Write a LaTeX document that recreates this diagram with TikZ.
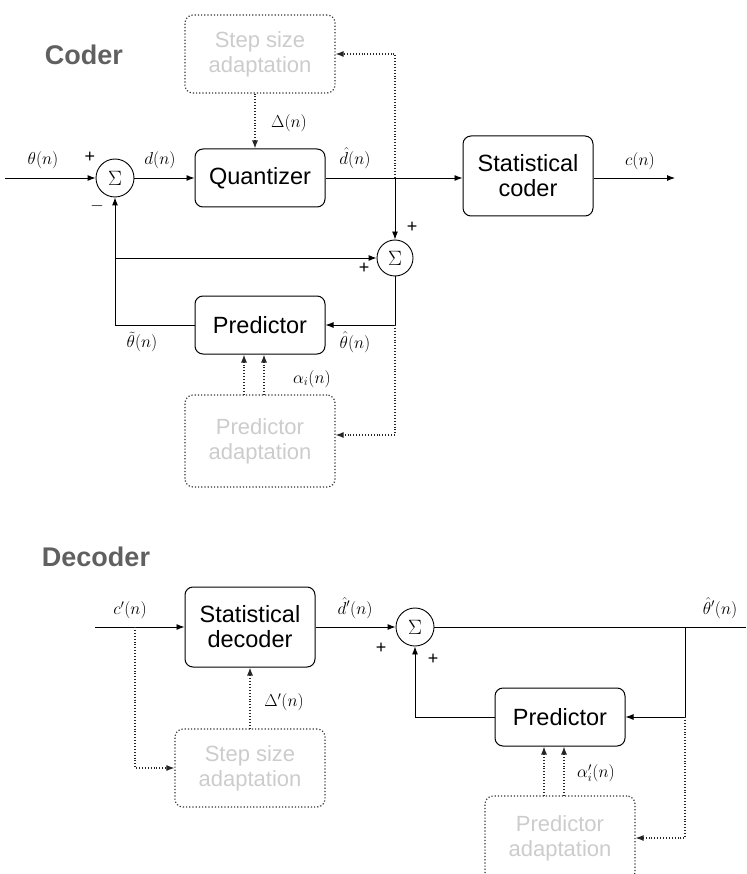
\documentclass[tikz,border=0pt]{standalone}
\usepackage{fontspec}
\setmainfont{Liberation Sans}
\usetikzlibrary{arrows.meta,positioning,calc}
\tikzset{
  blk/.style ={rectangle, rounded corners=8pt, draw=black, line width=1pt,
               minimum width=130pt, minimum height=58pt, align=center,
               inner sep=2pt, font=\fontsize{23.5}{25}\selectfont},
  adp/.style ={rectangle, rounded corners=8pt, draw=gray!40!black, dotted,
               line width=1.2pt, minimum width=150pt, minimum height=78pt,
               align=center, text=gray!40, inner sep=2pt,
               font=\fontsize{22}{25}\selectfont},
  sumc/.style={circle, draw, line width=0.9pt, minimum size=38pt, inner sep=0pt,
               font=\fontsize{20}{20}\selectfont},
  ar/.style  ={-{Latex[length=8pt,width=6pt]}, line width=0.9pt},
  dar/.style ={ar, dotted, line width=1.1pt, draw=gray!30!black},
  lbl/.style ={inner sep=1pt, font=\fontsize{17}{17}\selectfont},
  sgn/.style ={inner sep=1pt, font=\fontsize{18}{18}\selectfont},
  ttl/.style ={font=\fontsize{27}{27}\selectfont\bfseries, text=gray!75!black}
}
\begin{document}
\begin{tikzpicture}[x=1pt, y=-1pt]
\useasboundingbox (0,0) rectangle (746,874);
% coder
\node[ttl] (coder) at (84,55) {Coder};
\node[adp] (ssa) at (260,54) {Step size\\adaptation};
\node[sumc] (s1) at (115,178) {$\Sigma$};
\node[blk] (q) at (260,178) {Quantizer};
\node[blk, minimum height=80pt] (sc) at (528,176) {Statistical\\coder};
\node[sumc, minimum size=36pt] (s2) at (395,258) {$\Sigma$};
\node[blk] (p1) at (260,325) {Predictor};
\node[adp, minimum height=92pt] (pa) at (260,441) {Predictor\\adaptation};
\coordinate (in1) at (5,178);
\coordinate (out1) at (675,178);
\coordinate (j1) at (395,178);
\coordinate (j2) at (s2.south |- p1.east);
\coordinate (j3) at (s1.south |- s2.west);
\draw[ar] (in1) -- (s1.west);
\draw[ar] (s1.east) -- (q.west);
\draw (q.east) -- (j1);
\draw[ar] (j1) -- (sc.west |- j1);
\draw[ar] (sc.east |- j1) -- (out1);
\draw[ar] (j1) -- (s2.north);
\draw[dar] (j1) |- (ssa.east);
\draw[dar] ([xshift=-5pt]ssa.south) -- ([xshift=-5pt]q.north);
\draw[ar] (s2.south) |- (p1.east);
\draw[ar] (p1.west) -| (s1.south);
\draw[ar] (j3) -- (s2.west);
\draw[dar] (j2) |- ([yshift=6pt]pa.east);
\foreach \dx in {-16,4}{\draw[dar] ([xshift=\dx pt]pa.north) -- ([xshift=\dx pt]p1.south);}
\node[lbl] (th) at (43,160) {$\theta(n)$};
\node[sgn] (pl1) at (90,157) {+};
\node[sgn] (mi1) at (97,206) {$-$};
\node[lbl] (dn) at (160,160) {$d(n)$};
\node[lbl] (del) at (289,123) {$\Delta(n)$};
\node[lbl] (dh) at (355,158) {$\hat{d}(n)$};
\node[lbl] (cn) at (640,161) {$c(n)$};
\node[sgn] (pl2) at (412,227) {+};
\node[sgn] (pl3) at (364,268) {+};
\node[lbl] (tt) at (142,342) {$\tilde{\theta}(n)$};
\node[lbl] (thh) at (355,342) {$\hat{\theta}(n)$};
\node[lbl] (al) at (312,379) {$\alpha_i(n)$};
% decoder
\node[ttl] (decoder) at (96,557) {Decoder};
\node[blk, minimum height=80pt] (sd) at (250,627) {Statistical\\decoder};
\node[sumc] (s3) at (415,627) {$\Sigma$};
\node[blk] (p2) at (560,717) {Predictor};
\node[adp] (ssb) at (250,768) {Step size\\adaptation};
\node[adp, minimum height=84pt] (pb) at (560,838) {Predictor\\adaptation};
\coordinate (in2) at (95,627);
\coordinate (out2) at (746,627);
\coordinate (j4) at (135,627);
\coordinate (j5) at (685,627);
\coordinate (j6) at (j5 |- p2.east);
\draw[ar] (in2) -- (sd.west);
\draw[dar] (j4) |- (ssb.west);
\draw[dar] (ssb.north) -- (sd.south);
\draw[ar] (sd.east) -- (s3.west);
\draw (s3.east) -- (out2);
\draw[ar] (j5) |- (p2.east);
\draw[ar] (p2.west) -| (s3.south);
\draw[dar] (j6) |- (pb.east);
\foreach \dx in {-16,4}{\draw[dar] ([xshift=\dx pt]pb.north) -- ([xshift=\dx pt]p2.south);}
\node[lbl] (cp) at (130,610) {$c'(n)$};
\node[lbl] (dhp) at (355,608) {$\hat{d}'(n)$};
\node[sgn] (pl4) at (381,648) {+};
\node[sgn] (pl5) at (433,659) {+};
\node[lbl] (thp) at (720,608) {$\hat{\theta}'(n)$};
\node[lbl] (delp) at (284,702) {$\Delta'(n)$};
\node[lbl] (alp) at (596,773) {$\alpha'_i(n)$};
\end{tikzpicture}
\end{document}
